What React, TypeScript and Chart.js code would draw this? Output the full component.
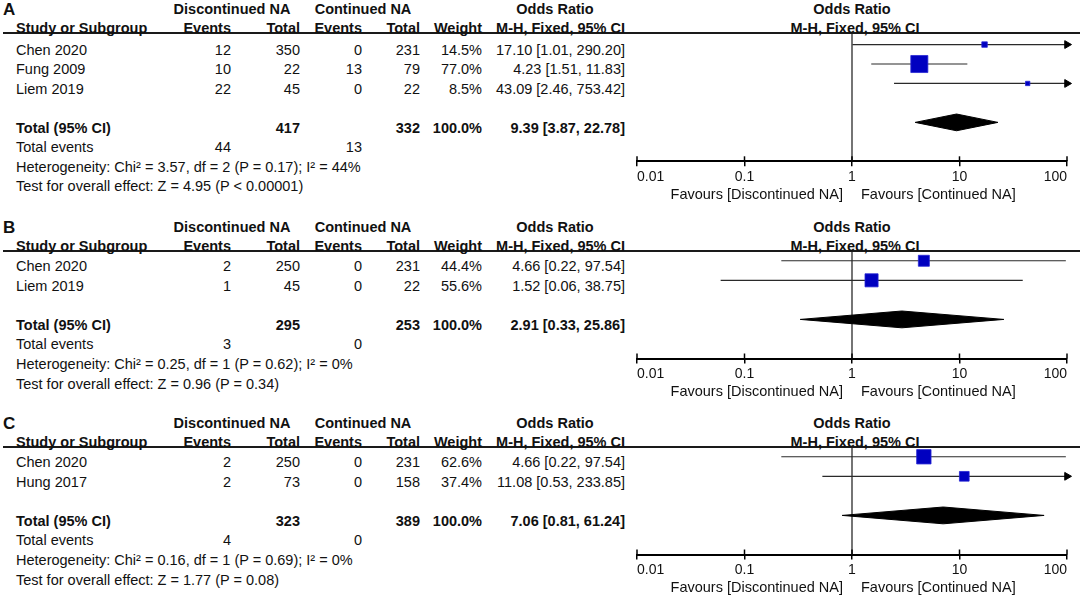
import React, { useEffect, useRef } from 'react';
import { Chart, registerables } from 'chart.js';

Chart.register(...registerables);

// ---------- shared labels ----------
const X_TICKS = [0.01, 0.1, 1, 10, 100];
const X_TICK_LABELS = ['0.01', '0.1', '1', '10', '100'];
const FAVOURS_LEFT = 'Favours [Discontinued NA]';
const FAVOURS_RIGHT = 'Favours [Continued NA]';
const GROUP_DISC = 'Discontinued NA';
const GROUP_CONT = 'Continued NA';

// ---------- panel A ----------
const A_STUDIES = ['Chen 2020', 'Fung 2009', 'Liem 2019'];
const A_DISC_EVENTS = [12, 10, 22];
const A_DISC_TOTAL = [350, 22, 45];
const A_CONT_EVENTS = [0, 13, 0];
const A_CONT_TOTAL = [231, 79, 22];
const A_WEIGHT = [14.5, 77.0, 8.5];
const A_OR = [17.1, 4.23, 43.09];
const A_LOW = [1.01, 1.51, 2.46];
const A_HIGH = [290.2, 11.83, 753.42];
const A_POOLED = [9.39, 3.87, 22.78];
const A_TOTALS = [417, 332];
const A_TOTAL_EVENTS = [44, 13];
const A_HETEROGENEITY = 'Heterogeneity: Chi² = 3.57, df = 2 (P = 0.17); I² = 44%';
const A_OVERALL = 'Test for overall effect: Z = 4.95 (P < 0.00001)';

// ---------- panel B ----------
const B_STUDIES = ['Chen 2020', 'Liem 2019'];
const B_DISC_EVENTS = [2, 1];
const B_DISC_TOTAL = [250, 45];
const B_CONT_EVENTS = [0, 0];
const B_CONT_TOTAL = [231, 22];
const B_WEIGHT = [44.4, 55.6];
const B_OR = [4.66, 1.52];
const B_LOW = [0.22, 0.06];
const B_HIGH = [97.54, 38.75];
const B_POOLED = [2.91, 0.33, 25.86];
const B_TOTALS = [295, 253];
const B_TOTAL_EVENTS = [3, 0];
const B_HETEROGENEITY = 'Heterogeneity: Chi² = 0.25, df = 1 (P = 0.62); I² = 0%';
const B_OVERALL = 'Test for overall effect: Z = 0.96 (P = 0.34)';

// ---------- panel C ----------
const C_STUDIES = ['Chen 2020', 'Hung 2017'];
const C_DISC_EVENTS = [2, 2];
const C_DISC_TOTAL = [250, 73];
const C_CONT_EVENTS = [0, 0];
const C_CONT_TOTAL = [231, 158];
const C_WEIGHT = [62.6, 37.4];
const C_OR = [4.66, 11.08];
const C_LOW = [0.22, 0.53];
const C_HIGH = [97.54, 233.85];
const C_POOLED = [7.06, 0.81, 61.24];
const C_TOTALS = [323, 389];
const C_TOTAL_EVENTS = [4, 0];
const C_HETEROGENEITY = 'Heterogeneity: Chi² = 0.16, df = 1 (P = 0.69); I² = 0%';
const C_OVERALL = 'Test for overall effect: Z = 1.77 (P = 0.08)';

// ---------- layout / style ----------
const FONT = '"Liberation Sans", Arial, Helvetica, sans-serif';
const TEXT = '#111111';
const SQUARE_FILL = '#0000c0';
const SQUARE_EDGE = '#2626d4';
const CI_COLOR = '#2a2a2a';
const FIG_W = 1084;
const FIG_H = 599;
const CANVAS_LEFT = 600;
const CANVAS_RIGHT = FIG_W;
const CANVAS_ABOVE = 12;
const CANVAS_BELOW = 44;
const PLOT_LEFT = 637;
const PLOT_RIGHT = 1067;
const X_MIN = 0.01;
const X_MAX = 100;
const TEXT_DY = 5.5;
const DIAMOND_HALF = 0.43;
const FS = 14.5;
const COL = { study: 16, discEv: 231, discTot: 300, contEv: 362, contTot: 420, weight: 482, ci: 625 };

const PANELS = [
  {
    letter: 'A', studies: A_STUDIES, discEv: A_DISC_EVENTS, discTot: A_DISC_TOTAL, contEv: A_CONT_EVENTS,
    contTot: A_CONT_TOTAL, weight: A_WEIGHT, or: A_OR, low: A_LOW, high: A_HIGH, pooled: A_POOLED,
    totals: A_TOTALS, totalEvents: A_TOTAL_EVENTS, het: A_HETEROGENEITY, overall: A_OVERALL,
    underline: 33.3, axisY: 161.3, yMin: 0.45,
  },
  {
    letter: 'B', studies: B_STUDIES, discEv: B_DISC_EVENTS, discTot: B_DISC_TOTAL, contEv: B_CONT_EVENTS,
    contTot: B_CONT_TOTAL, weight: B_WEIGHT, or: B_OR, low: B_LOW, high: B_HIGH, pooled: B_POOLED,
    totals: B_TOTALS, totalEvents: B_TOTAL_EVENTS, het: B_HETEROGENEITY, overall: B_OVERALL,
    underline: 251, axisY: 358.5, yMin: 0.5,
  },
  {
    letter: 'C', studies: C_STUDIES, discEv: C_DISC_EVENTS, discTot: C_DISC_TOTAL, contEv: C_CONT_EVENTS,
    contTot: C_CONT_TOTAL, weight: C_WEIGHT, or: C_OR, low: C_LOW, high: C_HIGH, pooled: C_POOLED,
    totals: C_TOTALS, totalEvents: C_TOTAL_EVENTS, het: C_HETEROGENEITY, overall: C_OVERALL,
    underline: 447, axisY: 554.5, yMin: 0.5,
  },
];

const yMaxOf = (p: any) => p.studies.length + 4;
const rowH = (p: any) => (p.axisY - p.underline) / (yMaxOf(p) - p.yMin);
const canvasTop = (p: any) => Math.floor(p.underline - CANVAS_ABOVE);
const canvasHeight = (p: any) => Math.ceil(p.axisY + CANVAS_BELOW - canvasTop(p));
const fmtCI = (o: number, l: number, h: number) => `${o.toFixed(2)} [${l.toFixed(2)}, ${h.toFixed(2)}]`;

const axisExtras = {
  id: 'axisExtras',
  afterDraw(chart: any) {
    const { ctx, chartArea } = chart;
    const x = chart.scales.x;
    ctx.save();
    ctx.strokeStyle = '#000';
    ctx.lineWidth = 1.5;
    X_TICKS.forEach((v) => {
      const px = x.getPixelForValue(v);
      ctx.beginPath();
      ctx.moveTo(px, chartArea.bottom - 5);
      ctx.lineTo(px, chartArea.bottom);
      ctx.stroke();
    });
    ctx.fillStyle = TEXT;
    ctx.font = `${FS}px ${FONT}`;
    ctx.textBaseline = 'middle';
    const x1 = x.getPixelForValue(1);
    const y = chartArea.bottom + 33.5;
    ctx.textAlign = 'right';
    ctx.fillText(FAVOURS_LEFT, x1 - 9, y);
    ctx.textAlign = 'left';
    ctx.fillText(FAVOURS_RIGHT, x1 + 9, y);
    ctx.restore();
  },
};

function buildConfig(p: any): any {
  const n = p.studies.length;
  const totalRow = n + 2;
  const yMax = yMaxOf(p);
  const top = canvasTop(p);
  const height = canvasHeight(p);
  const datasets: any[] = [];
  datasets.push({
    data: p.or.map((v: number, i: number) => ({ x: v, y: i + 1 })),
    showLine: false,
    pointStyle: 'rect',
    pointRadius: p.weight.map((w: number) => (2.8 + 0.185 * w) / Math.SQRT2),
    pointBackgroundColor: SQUARE_FILL,
    pointBorderColor: SQUARE_EDGE,
    pointBorderWidth: 0.8,
    clip: false,
  });
  p.low.forEach((lo: number, i: number) => {
    const hi = p.high[i];
    datasets.push({
      data: [
        { x: Math.max(lo, X_MIN), y: i + 1 },
        { x: Math.min(hi, X_MAX), y: i + 1 },
      ],
      showLine: true,
      borderColor: CI_COLOR,
      borderWidth: 1.2,
      pointStyle: 'triangle',
      pointRotation: [-90, 90],
      pointRadius: [lo < X_MIN ? 4.5 : 0, hi > X_MAX ? 4.5 : 0],
      pointBackgroundColor: '#000',
      pointBorderColor: '#000',
      pointBorderWidth: 1,
      clip: false,
    });
  });
  const [po, pl, ph] = p.pooled;
  datasets.push({
    data: [
      { x: pl, y: totalRow },
      { x: po, y: totalRow - DIAMOND_HALF },
      { x: ph, y: totalRow },
      { x: po, y: totalRow + DIAMOND_HALF },
      { x: pl, y: totalRow },
    ],
    showLine: true,
    fill: 'shape',
    backgroundColor: '#000',
    borderColor: '#000',
    borderWidth: 1,
    pointRadius: 0,
    tension: 0,
    clip: false,
  });
  datasets.push({
    data: [
      { x: 1, y: p.yMin },
      { x: 1, y: yMax },
    ],
    showLine: true,
    borderColor: '#1a1a1a',
    borderWidth: 1.2,
    pointRadius: 0,
    clip: false,
  });

  return {
    type: 'scatter',
    data: { datasets },
    options: {
      responsive: false,
      animation: false,
      events: [],
      layout: {
        padding: {
          left: PLOT_LEFT - CANVAS_LEFT,
          right: CANVAS_RIGHT - PLOT_RIGHT,
          top: p.underline - top,
          bottom: 0,
        },
      },
      plugins: {
        legend: { display: false },
        tooltip: { enabled: false },
        title: { display: false },
      },
      scales: {
        x: {
          type: 'logarithmic',
          min: X_MIN,
          max: X_MAX,
          position: 'bottom',
          afterBuildTicks: (s: any) => {
            s.ticks = X_TICKS.map((v) => ({ value: v }));
          },
          afterFit: (s: any) => {
            s.height = top + height - p.axisY;
          },
          ticks: {
            align: 'inner',
            padding: 2,
            autoSkip: false,
            maxRotation: 0,
            minRotation: 0,
            color: TEXT,
            font: { family: FONT, size: 14 },
            callback: (_v: any, i: number) => X_TICK_LABELS[i],
          },
          grid: {
            display: true,
            drawOnChartArea: false,
            drawTicks: true,
            tickLength: 5,
            color: '#000',
            lineWidth: 1.5,
          },
          border: { display: true, color: '#000', width: 2 },
        },
        y: {
          type: 'linear',
          display: false,
          reverse: true,
          min: p.yMin,
          max: yMax,
        },
      },
    },
    plugins: [axisExtras],
  };
}

function T({ x, y, align, bold, size, children }: any) {
  const style: any = {
    position: 'absolute',
    top: y - 10,
    height: 20,
    lineHeight: '20px',
    whiteSpace: 'nowrap',
    fontWeight: bold ? 700 : 400,
    fontSize: size || FS,
    color: TEXT,
  };
  if (align === 'left') style.left = x;
  else if (align === 'right') style.right = FIG_W - x;
  else {
    style.left = x - 200;
    style.width = 400;
    style.textAlign = 'center';
  }
  return <div style={style}>{children}</div>;
}

function ForestCanvas({ p }: any) {
  const ref = useRef<HTMLCanvasElement>(null);
  useEffect(() => {
    const chart = new Chart(ref.current as HTMLCanvasElement, buildConfig(p));
    return () => chart.destroy();
  }, [p]);
  const w = CANVAS_RIGHT - CANVAS_LEFT;
  const h = canvasHeight(p);
  return (
    <canvas
      ref={ref}
      width={w}
      height={h}
      style={{ position: 'absolute', left: CANVAS_LEFT, top: canvasTop(p), width: w, height: h }}
    />
  );
}

function Panel({ p }: any) {
  const rh = rowH(p);
  const ty = (r: number) => p.underline + (r - p.yMin) * rh + TEXT_DY;
  const h1 = p.underline - 24.5;
  const h2 = p.underline - 5.5;
  const n = p.studies.length;
  const plotMid = (PLOT_LEFT + PLOT_RIGHT) / 2;
  const items: any[] = [];
  items.push(<T key="letter" x={3} y={h1 + 1} align="left" bold size={17}>{p.letter}</T>);
  items.push(<T key="g1" x={232} y={h1} align="center" bold>{GROUP_DISC}</T>);
  items.push(<T key="g2" x={363} y={h1} align="center" bold>{GROUP_CONT}</T>);
  items.push(<T key="g3" x={555} y={h1} align="center" bold>Odds Ratio</T>);
  items.push(<T key="g4" x={plotMid} y={h1} align="center" bold>Odds Ratio</T>);
  items.push(<T key="c1" x={COL.study} y={h2} align="left" bold>Study or Subgroup</T>);
  items.push(<T key="c2" x={COL.discEv} y={h2} align="right" bold>Events</T>);
  items.push(<T key="c3" x={COL.discTot} y={h2} align="right" bold>Total</T>);
  items.push(<T key="c4" x={COL.contEv} y={h2} align="right" bold>Events</T>);
  items.push(<T key="c5" x={COL.contTot} y={h2} align="right" bold>Total</T>);
  items.push(<T key="c6" x={COL.weight} y={h2} align="right" bold>Weight</T>);
  items.push(<T key="c7" x={COL.ci} y={h2} align="right" bold>M-H, Fixed, 95% CI</T>);
  items.push(<T key="c8" x={plotMid + 3} y={h2} align="center" bold>M-H, Fixed, 95% CI</T>);
  p.studies.forEach((s: string, i: number) => {
    const y = ty(i + 1);
    items.push(<T key={`s${i}`} x={COL.study} y={y} align="left">{s}</T>);
    items.push(<T key={`de${i}`} x={COL.discEv} y={y} align="right">{p.discEv[i]}</T>);
    items.push(<T key={`dt${i}`} x={COL.discTot} y={y} align="right">{p.discTot[i]}</T>);
    items.push(<T key={`ce${i}`} x={COL.contEv} y={y} align="right">{p.contEv[i]}</T>);
    items.push(<T key={`ct${i}`} x={COL.contTot} y={y} align="right">{p.contTot[i]}</T>);
    items.push(<T key={`w${i}`} x={COL.weight} y={y} align="right">{`${p.weight[i].toFixed(1)}%`}</T>);
    items.push(<T key={`ci${i}`} x={COL.ci} y={y} align="right">{fmtCI(p.or[i], p.low[i], p.high[i])}</T>);
  });
  const yt = ty(n + 2);
  items.push(<T key="tl" x={COL.study} y={yt} align="left" bold>Total (95% CI)</T>);
  items.push(<T key="tdt" x={COL.discTot} y={yt} align="right" bold>{p.totals[0]}</T>);
  items.push(<T key="tct" x={COL.contTot} y={yt} align="right" bold>{p.totals[1]}</T>);
  items.push(<T key="tw" x={COL.weight} y={yt} align="right" bold>100.0%</T>);
  items.push(<T key="tci" x={COL.ci} y={yt} align="right" bold>{fmtCI(p.pooled[0], p.pooled[1], p.pooled[2])}</T>);
  const ye = ty(n + 3);
  items.push(<T key="el" x={COL.study} y={ye} align="left">Total events</T>);
  items.push(<T key="ed" x={COL.discEv} y={ye} align="right">{p.totalEvents[0]}</T>);
  items.push(<T key="ec" x={COL.contEv} y={ye} align="right">{p.totalEvents[1]}</T>);
  items.push(<T key="het" x={COL.study} y={ty(n + 4)} align="left">{p.het}</T>);
  items.push(<T key="ov" x={COL.study} y={ty(n + 5)} align="left">{p.overall}</T>);
  return (
    <>
      <div
        style={{
          position: 'absolute',
          left: 3,
          width: 1077,
          top: p.underline - 1,
          height: 2,
          background: '#1a1a1a',
        }}
      />
      {items}
      <ForestCanvas p={p} />
    </>
  );
}

export default function App() {
  return (
    <div
      style={{
        position: 'fixed',
        left: 0,
        top: 0,
        width: FIG_W,
        height: FIG_H,
        background: '#fff',
        fontFamily: FONT,
        overflow: 'hidden',
      }}
    >
      {PANELS.map((p) => (
        <Panel key={p.letter} p={p} />
      ))}
    </div>
  );
}
